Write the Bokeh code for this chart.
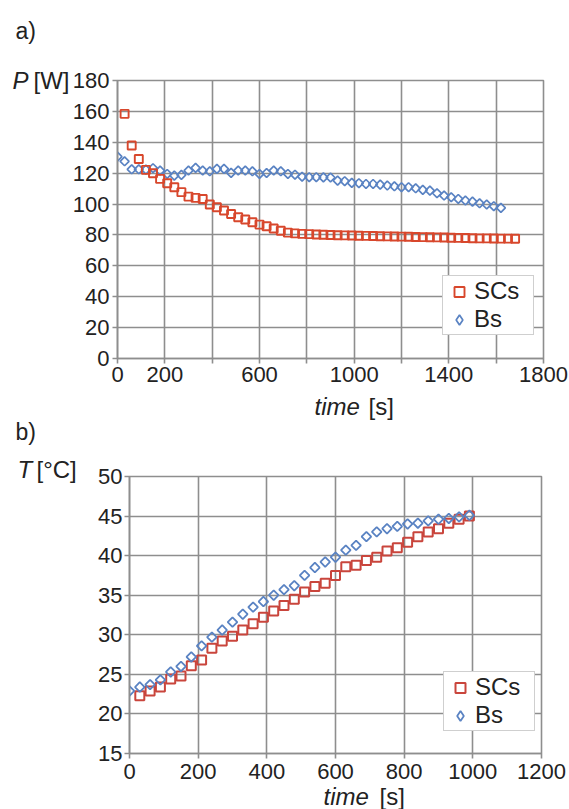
from bokeh.plotting import figure
from bokeh.models import Range1d, FixedTicker, Label, Legend, LegendItem
from bokeh.layouts import column
from bokeh.embed import file_html
from bokeh.resources import INLINE

# ---------------- data: panel a) power P [W] vs time [s] ----------------
scs_p_time = [30, 60, 90, 120, 150, 180, 210, 240, 270, 300, 330, 360, 390, 420, 450,
              480, 510, 540, 570, 600, 630, 660, 690, 720, 750, 780, 810, 840, 870, 900,
              930, 960, 990, 1020, 1050, 1080, 1110, 1140, 1170, 1200, 1230, 1260, 1290,
              1320, 1350, 1380, 1410, 1440, 1470, 1500, 1530, 1560, 1590, 1620, 1650, 1680]
scs_p = [158.4, 137.9, 129.2, 122.1, 119.9, 116.3, 113.5, 110.9, 107.7, 104.8,
         104.0, 103.3, 99.7, 97.9, 95.8, 93.6, 91.5, 90.0, 88.2, 86.7,
         85.6, 84.2, 82.7, 81.5, 81.0, 80.7, 80.5, 80.3, 80.1, 80.0,
         79.8, 79.7, 79.6, 79.5, 79.4, 79.3, 79.2, 79.1, 79.0, 78.9,
         78.8, 78.7, 78.6, 78.5, 78.4, 78.3, 78.2, 78.1, 78.0, 77.9,
         77.8, 77.8, 77.7, 77.6, 77.6, 77.5]
bs_p_time = [0, 30, 60, 90, 120, 150, 180, 210, 240, 270, 300, 330, 360, 390, 420, 450,
             480, 510, 540, 570, 600, 630, 660, 690, 720, 750, 780, 810, 840, 870, 900,
             930, 960, 990, 1020, 1050, 1080, 1110, 1140, 1170, 1200, 1230, 1260, 1290,
             1320, 1350, 1380, 1410, 1440, 1470, 1500, 1530, 1560, 1590, 1620]
bs_p = [130.7, 127.7, 122.5, 122.5, 122.3, 123.2, 121.7, 119.5, 118.4, 118.9,
        121.7, 123.4, 121.7, 121.2, 122.8, 122.8, 120.2, 121.7, 121.7, 121.2,
        119.5, 120.1, 121.7, 121.2, 119.5, 119.0, 117.7, 117.4, 117.4, 117.3,
        117.2, 115.2, 114.8, 113.7, 113.5, 113.0, 113.0, 112.6, 112.0, 111.5,
        110.9, 110.9, 110.2, 109.2, 108.7, 107.0, 105.5, 104.4, 103.3, 102.3,
        101.6, 100.5, 99.7, 98.6, 97.5]
p_xticks = [0, 200, 400, 600, 800, 1000, 1200, 1400, 1600, 1800]
p_xtick_labels = ["0", "200", "", "600", "", "1000", "", "1400", "", "1800"]
p_yticks = [0, 20, 40, 60, 80, 100, 120, 140, 160, 180]

# ---------------- data: panel b) temperature T [°C] vs time [s] ----------------
scs_t_time = [30, 60, 90, 120, 150, 180, 210, 240, 270, 300, 330, 360, 390, 420, 450,
              480, 510, 540, 570, 600, 630, 660, 690, 720, 750, 780, 810, 840, 870, 900,
              930, 960, 990]
scs_t = [22.3, 22.9, 23.4, 24.4, 24.8, 26.1, 26.8, 28.3, 29.2, 29.8,
         30.6, 31.4, 32.2, 33.0, 33.7, 34.5, 35.4, 36.1, 36.5, 37.5,
         38.6, 38.8, 39.4, 39.8, 40.6, 41.0, 41.7, 42.4, 43.0, 43.4,
         44.1, 44.6, 45.0]
bs_t_time = [0, 30, 60, 90, 120, 150, 180, 210, 240, 270, 300, 330, 360, 390, 420, 450,
             480, 510, 540, 570, 600, 630, 660, 690, 720, 750, 780, 810, 840, 870, 900,
             930, 960, 990]
bs_t = [22.9, 23.4, 23.7, 24.3, 25.3, 26.0, 27.2, 28.6, 29.7, 30.6,
        31.6, 32.6, 33.5, 34.2, 35.0, 35.7, 36.2, 37.5, 38.5, 39.2,
        39.8, 40.7, 41.3, 42.4, 43.0, 43.4, 43.7, 44.0, 44.1, 44.4,
        44.6, 44.7, 44.9, 45.1]
t_xticks = [0, 200, 400, 600, 800, 1000, 1200]
t_yticks = [15, 20, 25, 30, 35, 40, 45, 50]

series_labels = ["SCs", "Bs"]

# ---------------- style ----------------
GRID = "#8e8e8e"
TXT = "#222222"
RED_A = "#d8472c"
RED_B = "#c9453c"
BLUE = "#5a83c3"
FONT = "Liberation Sans"
W = 569
DIAMOND_ANGLE = 0.7853981634  # square turned 45 degrees = diamond


def base_fig(height, xr, yr, xticks, yticks, left, right, top, bottom):
    p = figure(width=W, height=height, x_range=Range1d(*xr), y_range=Range1d(*yr),
               output_backend="svg", toolbar_location=None,
               min_border_left=left, min_border_right=right,
               min_border_top=top, min_border_bottom=bottom)
    p.frame_align = False
    p.background_fill_color = "white"
    p.border_fill_color = "white"
    p.outline_line_color = GRID
    p.outline_line_width = 1.6
    p.xaxis.ticker = FixedTicker(ticks=xticks)
    p.yaxis.ticker = FixedTicker(ticks=yticks)
    p.xgrid.ticker = FixedTicker(ticks=xticks)
    p.ygrid.ticker = FixedTicker(ticks=yticks)
    p.grid.grid_line_color = GRID
    p.grid.grid_line_width = 1.6
    for ax in (p.xaxis, p.yaxis):
        ax.axis_line_color = GRID
        ax.axis_line_width = 1.6
        ax.major_tick_line_color = GRID
        ax.major_tick_line_width = 1.6
        ax.major_tick_out = 5
        ax.major_tick_in = 0
        ax.minor_tick_line_color = None
        ax.major_label_text_font = FONT
        ax.major_label_text_font_size = "22px"
        ax.major_label_text_color = TXT
    # off-screen range used only so the legend can show a diamond key
    p.extra_y_ranges = {"legend_key": Range1d(-1000, -999)}
    return p


def add_label(p, side, cx, cy, text, size="24px", italic=False):
    # texts outside the frame live in a side panel (no clipping), placed in canvas px
    p.add_layout(Label(x=cx, y=cy, x_units="canvas", y_units="canvas",
                       text=text, text_font=FONT, text_font_size=size,
                       text_font_style="italic" if italic else "normal",
                       text_color=TXT, text_baseline="middle", text_align="left"),
                 side)


def add_legend(p, items, loc):
    lg = Legend(items=items, location=loc, margin=0, padding=1, spacing=0,
                glyph_width=30, glyph_height=25, label_standoff=0, label_width=58,
                label_text_font=FONT, label_text_font_size="24px",
                label_text_color=TXT, border_line_color="#a0a0a0",
                border_line_width=1.2, background_fill_color="white",
                background_fill_alpha=1.0)
    p.add_layout(lg)


def diamond_key(p, xs, ys, line_width):
    # same series drawn on the off-screen range: only its legend key is visible
    return p.scatter(xs, ys, marker="diamond", size=10, fill_color=None,
                     line_color=BLUE, line_width=line_width, y_range_name="legend_key")


# ---------------- panel a ----------------
A_H = 420
A_L, A_R, A_T, A_B = 117, 26, 80, 62
pa = base_fig(A_H, (0, 1800), (0, 180), p_xticks, p_yticks, A_L, A_R, A_T, A_B)
pa.xaxis.major_label_overrides = {t: s for t, s in zip(p_xticks, p_xtick_labels)}
pa.xaxis.major_label_standoff = 3
pa.yaxis.major_label_standoff = 3
ra2 = pa.scatter(bs_p_time, bs_p, marker="square", angle=DIAMOND_ANGLE, size=6.3,
                 fill_color=None, line_color=BLUE, line_width=1.7)
ra1 = pa.scatter(scs_p_time, scs_p, marker="square", size=8, fill_color=None,
                 line_color=RED_A, line_width=1.9)
ka = diamond_key(pa, bs_p_time, bs_p, 1.7)
add_legend(pa, [LegendItem(label=series_labels[0], renderers=[ra1]),
                LegendItem(label=series_labels[1], renderers=[ka])], (325, 23))
add_label(pa, "above", 15, 30, "a)", size="23px")
add_label(pa, "above", 12, 80, "P", italic=True)
add_label(pa, "left", 33, 80, "[W]")
add_label(pa, "below", 314, 406, "time", italic=True)
add_label(pa, "left", 368, 406, "[s]")

# ---------------- panel b ----------------
B_H = 389
B_L, B_R, B_T, B_B = 129, 28, 56, 56
pb = base_fig(B_H, (0, 1200), (15, 50), t_xticks, t_yticks, B_L, B_R, B_T, B_B)
pb.xaxis.major_label_standoff = 5
pb.yaxis.major_label_standoff = 2
rb1 = pb.scatter(scs_t_time, scs_t, marker="square", size=9, fill_color=None,
                 line_color=RED_B, line_width=2.0)
rb2 = pb.scatter(bs_t_time, bs_t, marker="square", angle=DIAMOND_ANGLE, size=6.8,
                 fill_color=None, line_color=BLUE, line_width=1.8)
kb = diamond_key(pb, bs_t_time, bs_t, 1.8)
add_legend(pb, [LegendItem(label=series_labels[0], renderers=[rb1]),
                LegendItem(label=series_labels[1], renderers=[kb])], (314, 22))
# canvas y of panel b = page y - A_H
add_label(pb, "above", 15, 431 - A_H, "b)", size="23px")
add_label(pb, "above", 17, 469 - A_H, "T", italic=True)
add_label(pb, "left", 36, 469 - A_H, "[°C]")
add_label(pb, "left", 323, 796 - A_H, "time", italic=True)
add_label(pb, "right", 379, 796 - A_H, "[s]")

layout = column(pa, pb, spacing=0)
open("out.html", "w").write(file_html(layout, INLINE))
